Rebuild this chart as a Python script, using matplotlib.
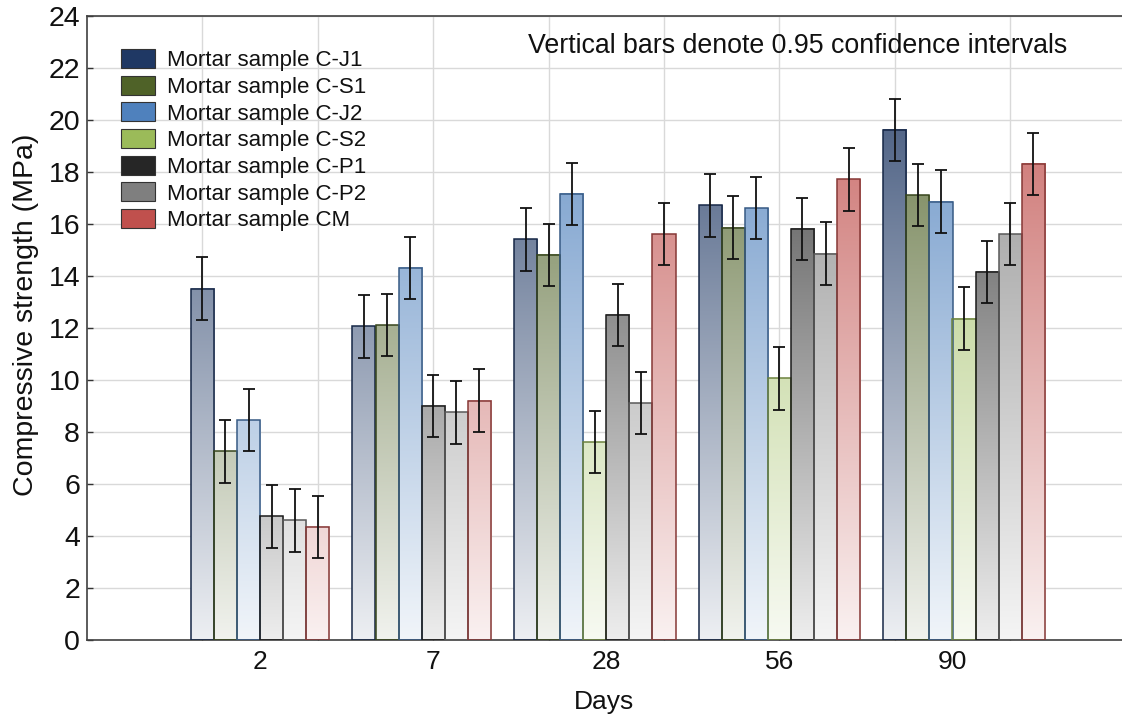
import numpy as np
import matplotlib
matplotlib.use("Agg")
import matplotlib.pyplot as plt
from matplotlib.colors import to_rgb
from matplotlib.patches import Patch

plt.rcParams['font.family'] = ['Liberation Sans', 'DejaVu Sans']

# ---------------- data ----------------
days = ['2', '7', '28', '56', '90']
series_names = ['Mortar sample C-J1', 'Mortar sample C-S1', 'Mortar sample C-J2',
                'Mortar sample C-S2', 'Mortar sample C-P1', 'Mortar sample C-P2',
                'Mortar sample CM']
series_colors = ['#1f3864', '#4f6228', '#4f81bd', '#9bbb59', '#262626', '#7f7f7f', '#c0504d']
cj1 = [13.5, 12.05, 15.4, 16.7, 19.6]
cs1 = [7.25, 12.1, 14.8, 15.85, 17.1]
cj2 = [8.45, 14.3, 17.15, 16.6, 16.85]
cs2 = [np.nan, np.nan, 7.6, 10.05, 12.35]
cp1 = [4.75, 9.0, 12.5, 15.8, 14.15]
cp2 = [4.6, 8.75, 9.1, 14.85, 15.6]
cm = [4.35, 9.2, 15.6, 17.7, 18.3]
ci_half = [1.2, 1.2, 1.2, 1.2, 1.2]  # 0.95 confidence half-widths
values = [cj1, cs1, cj2, cs2, cp1, cp2, cm]

# ---------------- figure ----------------
W, H = 1122, 726
fig = plt.figure(figsize=(W / 100, H / 100), dpi=100)
ax_l, ax_r, ax_t, ax_b = 87, 1122, 15.5, 640
ax = fig.add_axes([ax_l / W, 1 - ax_b / H, (ax_r - ax_l) / W, (ax_b - ax_t) / H])

YMAX = 24.0

def grad_color(base, y):
    b = np.array(to_rgb(base))
    mix = 0.08 + 0.84 * (1 - y / YMAX)
    return b * (1 - mix) + mix

# bars are laid out contiguously, one empty slot between day groups
x = 4.5
for gi, d in enumerate(days):
    for si in range(len(values)):
        v = values[si][gi]
        if np.isnan(v):
            continue
        base = series_colors[si]
        ys = np.linspace(0, v, 200)
        img = np.array([grad_color(base, yy) for yy in ys])[:, None, :]
        ax.imshow(img, extent=(x, x + 1, 0, v), origin='lower', aspect='auto',
                  interpolation='bilinear', zorder=2)
        edge = np.array(to_rgb(base)) * 0.7
        ax.bar(x + 0.5, v, width=1, fill=False, edgecolor=edge, linewidth=1.1, zorder=3)
        ax.errorbar(x + 0.5, v, yerr=ci_half[gi], fmt='none', ecolor='#111111',
                    elinewidth=1.3, capsize=4.5, capthick=1.3, zorder=4)
        x += 1
    x += 1

ax.set_xlim(0, (ax_r - ax_l) / 23.08)
ax.set_ylim(0, YMAX)

# axis ticks / grid
ax.set_yticks(np.arange(0, 25, 2))
ax.set_xticks(np.arange(5, 45, 5))
ax.set_xticks([7.5 * (i + 1) for i in range(len(days))], minor=True)
ax.xaxis.remove_overlapping_locs = False
ax.set_xticklabels([], minor=False)
ax.set_xticklabels(days, minor=True)
ax.tick_params(axis='x', which='major', direction='in', length=4, width=1, color='#333333')
ax.tick_params(axis='x', which='minor', length=0, pad=7.5, labelsize=19, labelcolor='#111111')
ax.tick_params(axis='y', direction='in', length=4, width=1, color='#333333', pad=5,
               labelsize=20.5, labelcolor='#111111')
ax.grid(True, which='major', color='#d9d9d9', linewidth=1)
ax.set_axisbelow(True)

for s in ['left', 'bottom', 'top']:
    ax.spines[s].set_color('#404040')
    ax.spines[s].set_linewidth(1.2)
ax.spines['right'].set_visible(False)

ax.set_xlabel('Days', fontsize=19, color='#111111', labelpad=11)
ax.set_ylabel('Compressive strength (MPa)', fontsize=20.5, color='#111111')
ax.yaxis.set_label_coords((39 - ax_l) / (ax_r - ax_l), (640 - 315) / (ax_b - ax_t))

handles = [Patch(facecolor=c, edgecolor='#333333', linewidth=0.8) for c in series_colors]
leg = ax.legend(handles, series_names, loc='upper left',
                bbox_to_anchor=((120.7 - ax_l) / (ax_r - ax_l), 1 - (49 - ax_t) / (ax_b - ax_t)),
                frameon=False, fontsize=16, borderpad=0, borderaxespad=0,
                handlelength=1.55, handleheight=0.95, handletextpad=0.55, labelspacing=0.2)
for t in leg.get_texts():
    t.set_color('#111111')

ax.text((1067 - ax_l) / (ax_r - ax_l), 1 - (46 - ax_t) / (ax_b - ax_t),
        'Vertical bars denote 0.95 confidence intervals', transform=ax.transAxes,
        ha='right', va='center', fontsize=19.3, color='#111111')

fig.savefig('out.png', dpi=100)
